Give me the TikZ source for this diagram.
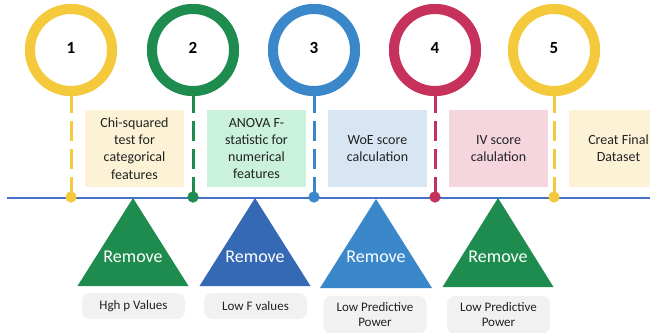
\documentclass[tikz,border=0pt]{standalone}
\usepackage{fontspec}
\setmainfont{Carlito}
\definecolor{cyellow}{HTML}{F4CA3C}
\definecolor{cgreen}{HTML}{1E8C4F}
\definecolor{cblue}{HTML}{3A88CA}
\definecolor{ccrimson}{HTML}{C6325C}
\definecolor{cnavy}{HTML}{3569B4}
\definecolor{ctimeline}{HTML}{4472C4}
\definecolor{fyellow}{HTML}{FCF3D6}
\definecolor{fgreen}{HTML}{C9F1DC}
\definecolor{fblue}{HTML}{D8E6F3}
\definecolor{fpink}{HTML}{F5D6DF}
\definecolor{fgray}{HTML}{F1F1F1}
\definecolor{ink}{HTML}{222222}
\tikzset{
  ring/.style={circle, draw=#1, line width=10pt, fill=white, minimum size=82pt, inner sep=0pt},
  num/.style={font=\fontsize{17}{19}\selectfont\bfseries, text=black, inner sep=0pt},
  stem/.style={draw=#1, line width=3pt, dash pattern=on 20pt off 8pt},
  dot/.style={circle, fill=#1, minimum size=11pt, inner sep=0pt},
  card/.style={fill=#1, minimum width=99pt, minimum height=77pt, inner sep=0pt,
    align=center, text=ink, font=\fontsize{14}{17.3}\selectfont},
  timeline/.style={draw=ctimeline, line width=2.5pt},
  tri/.style={fill=#1},
  remove/.style={text=white, font=\fontsize{18}{20}\selectfont, inner sep=0pt},
  tag/.style={fill=fgray, rounded corners=8pt, minimum width=103pt, inner sep=0pt,
    align=center, text=ink, font=\fontsize{13}{15}\selectfont},
}
\begin{document}
\begin{tikzpicture}[x=1pt, y=-1pt]
\useasboundingbox (0,0) rectangle (650,332);
\clip (0,0) rectangle (650,332);

% description cards between the milestones
\node[card=fyellow] (b1) at (134.5,148.5) {Chi-squared\\test for\\categorical\\features};
\node[card=fgreen]  (b2) at (256.5,148.5) {ANOVA F-\\statistic for\\numerical\\features};
\node[card=fblue]   (b3) at (377.5,148.5) {WoE score\\calculation};
\node[card=fpink]   (b4) at (498.5,148.5) {IV score\\calulation};
\node[card=fyellow] (b5) at (618.5,148.5) {Creat Final\\Dataset};

% timeline axis
\coordinate (t0) at (7,198);
\coordinate (t1) at (650,198);
\draw[timeline] (t0) -- (t1);

% milestone dots on the axis
\node[dot=cyellow]  (d1) at (71,197) {};
\node[dot=cgreen]   (d2) at (193,197) {};
\node[dot=cblue]    (d3) at (314,197) {};
\node[dot=ccrimson] (d4) at (435,197) {};
\node[dot=cyellow]  (d5) at (554,197) {};

% milestone rings
\node[ring=cyellow]  (r1) at (71,50) {};
\node[ring=cgreen]   (r2) at (193,50) {};
\node[ring=cblue]    (r3) at (314,50) {};
\node[ring=ccrimson] (r4) at (435,50) {};
\node[ring=cyellow]  (r5) at (554,50) {};

% dashed stems from the dots up to the rings
\draw[stem=cyellow]  (d1.center) -- (r1.south);
\draw[stem=cgreen]   (d2.center) -- (r2.south);
\draw[stem=cblue]    (d3.center) -- (r3.south);
\draw[stem=ccrimson] (d4.center) -- (r4.south);
\draw[stem=cyellow]  (d5.center) -- (r5.south);
\node[dot=cyellow]  at (d1) {};
\node[dot=cgreen]   at (d2) {};
\node[dot=cblue]    at (d3) {};
\node[dot=ccrimson] at (d4) {};
\node[dot=cyellow]  at (d5) {};
\node[ring=cyellow]  at (r1) {};
\node[ring=cgreen]   at (r2) {};
\node[ring=cblue]    at (r3) {};
\node[ring=ccrimson] at (r4) {};
\node[ring=cyellow]  at (r5) {};

% step numbers
\node[num] (n1) at (71,48) {1};
\node[num] (n2) at (193,48) {2};
\node[num] (n3) at (314,48) {3};
\node[num] (n4) at (435,48) {4};
\node[num] (n5) at (554,48) {5};

% removal triangles hanging below the axis
\fill[tri=cgreen] (133,198) -- (188.5,286) -- (77.5,286) -- cycle;
\fill[tri=cnavy]  (255,198) -- (310.5,286) -- (199.5,286) -- cycle;
\fill[tri=cblue]  (376,199) -- (432,288) -- (320,288) -- cycle;
\fill[tri=cgreen] (498,198) -- (553.5,287) -- (442.5,287) -- cycle;
\node[remove] (x1) at (133,257) {Remove};
\node[remove] (x2) at (255,257) {Remove};
\node[remove] (x3) at (376,257) {Remove};
\node[remove] (x4) at (498,257) {Remove};

% reasons for removal
\node[tag, minimum height=26pt] (g1) at (133.5,306) {Hgh p Values};
\node[tag, minimum height=26pt] (g2) at (255.5,306) {Low F values};
\node[tag, minimum height=38pt] (g3) at (375,315) {Low Predictive\\Power};
\node[tag, minimum height=38pt] (g4) at (498.5,315) {Low Predictive\\Power};
\end{tikzpicture}
\end{document}
